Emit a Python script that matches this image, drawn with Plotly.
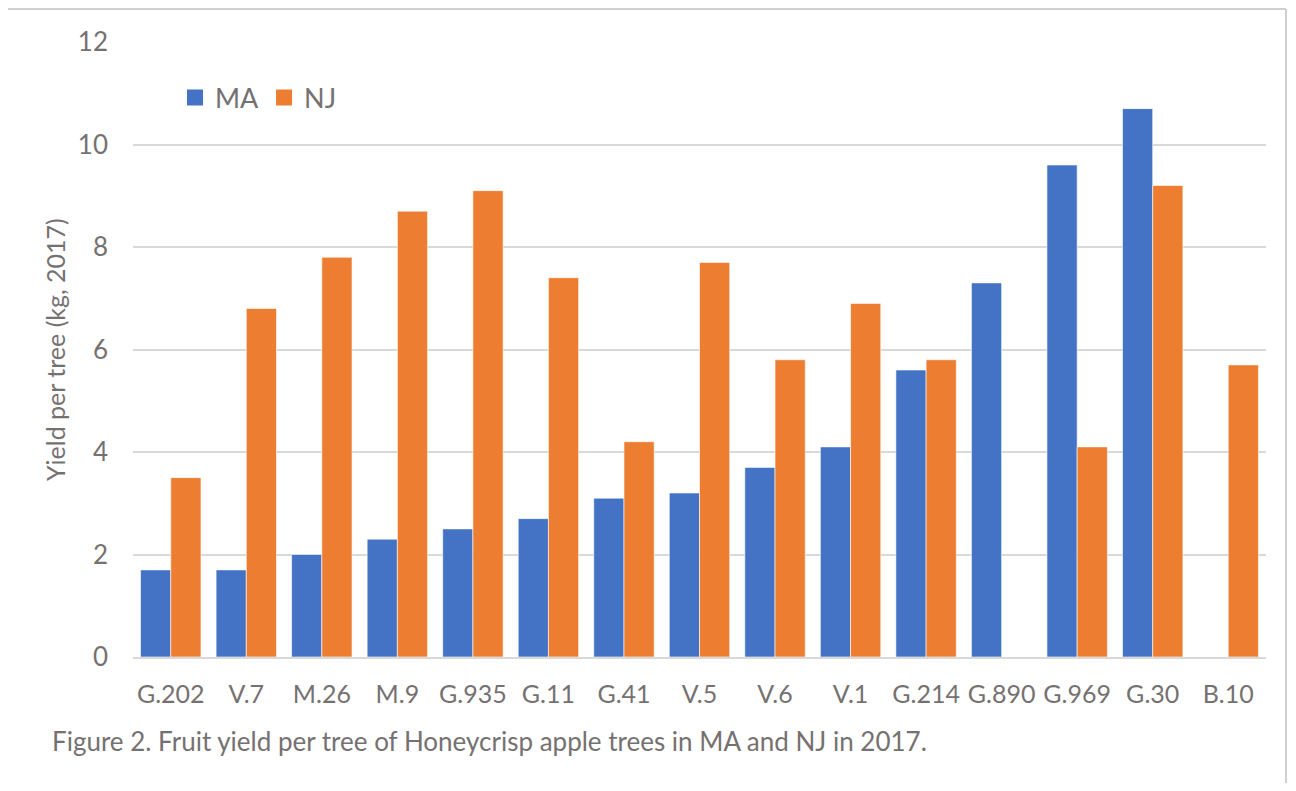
import plotly.graph_objects as go

categories = ["G.202", "V.7", "M.26", "M.9", "G.935", "G.11", "G.41", "V.5",
              "V.6", "V.1", "G.214", "G.890", "G.969", "G.30", "B.10"]
ma_values = [1.7, 1.7, 2.0, 2.3, 2.5, 2.7, 3.1, 3.2, 3.7, 4.1, 5.6, 7.3, 9.6, 10.7, None]
nj_values = [3.5, 6.8, 7.8, 8.7, 9.1, 7.4, 4.2, 7.7, 5.8, 6.9, 5.8, None, 4.1, 9.2, 5.7]
y_ticks = [0, 2, 4, 6, 8, 10, 12]

OFF = 8  # page body margin
W, H = 1296 - OFF, 791 - 2 * OFF
# plot area in page pixels: x 133..1266, y 42..657
L = 133 - OFF
T = 42 - OFF
R = W - (1266 - OFF)
B = H - (657 - OFF)
PW = W - L - R
PH = H - T - B

def px_x(x):  # page px -> paper
    return (x - OFF - L) / PW

def px_y(y):
    return (657 - y) / PH

FONT = "Lato, 'Open Sans', sans-serif"
GRAY = "#767171"
MA_COLOR = "#4472C4"
NJ_COLOR = "#ED7D31"

fig = go.Figure()
fig.add_trace(go.Bar(name="MA", x=categories, y=ma_values, showlegend=False,
                     marker=dict(color=MA_COLOR, line=dict(color="rgba(255,255,255,0.6)", width=1))))
fig.add_trace(go.Bar(name="NJ", x=categories, y=nj_values, showlegend=False,
                     marker=dict(color=NJ_COLOR, line=dict(color="rgba(255,255,255,0.6)", width=1))))
# legend entries with larger square swatches
for name, col in [("MA", MA_COLOR), ("NJ", NJ_COLOR)]:
    fig.add_trace(go.Scatter(name=name, x=[None], y=[None], mode="markers",
                             marker=dict(symbol="square", size=17, color=col)))

fig.update_layout(
    width=W, height=H,
    margin=dict(l=L, r=R, t=T, b=B, autoexpand=False),
    paper_bgcolor="white", plot_bgcolor="white",
    barmode="group", bargap=0.2, bargroupgap=0,
    font=dict(family=FONT, color=GRAY, size=25),
    showlegend=True,
    legend=dict(orientation="h", x=px_x(175), y=px_y(98), xanchor="left", yanchor="middle",
                font=dict(size=27, color=GRAY), bgcolor="rgba(0,0,0,0)",
                itemwidth=30, traceorder="normal", itemsizing="trace"),
)
fig.update_xaxes(showgrid=False, showline=True, linecolor="#D9D9D9", linewidth=2,
                 ticks="", tickfont=dict(size=25, color=GRAY), ticklabelstandoff=14)
fig.update_yaxes(range=[0, 12], tickvals=y_ticks, showgrid=True, gridcolor="#D9D9D9",
                 gridwidth=2, zeroline=False, showline=False, ticks="",
                 tickfont=dict(size=26, color=GRAY), ticklabelstandoff=24)

fig.add_annotation(text="Yield per tree (kg, 2017)", textangle=-90,
                   xref="paper", yref="paper", x=px_x(55), y=px_y(350),
                   xanchor="center", yanchor="middle", showarrow=False,
                   font=dict(size=25, color=GRAY))
fig.add_annotation(text="Figure 2. Fruit yield per tree of Honeycrisp apple trees in MA and NJ in 2017.",
                   xref="paper", yref="paper", x=px_x(50), y=px_y(741),
                   xanchor="left", yanchor="middle", showarrow=False,
                   font=dict(size=26, color=GRAY))

# outer frame (right edge; left/top fall in the page margin)
fig.add_shape(type="line", xref="paper", yref="paper", layer="above",
              x0=px_x(1286), x1=px_x(1286), y0=px_y(OFF + 1), y1=px_y(OFF + H),
              line=dict(color="#D0D0D0", width=2))
fig.add_shape(type="line", xref="paper", yref="paper", layer="above",
              x0=px_x(OFF), x1=px_x(1286), y0=px_y(OFF + 1), y1=px_y(OFF + 1),
              line=dict(color="#D0D0D0", width=2))

fig.write_html("out.html")
